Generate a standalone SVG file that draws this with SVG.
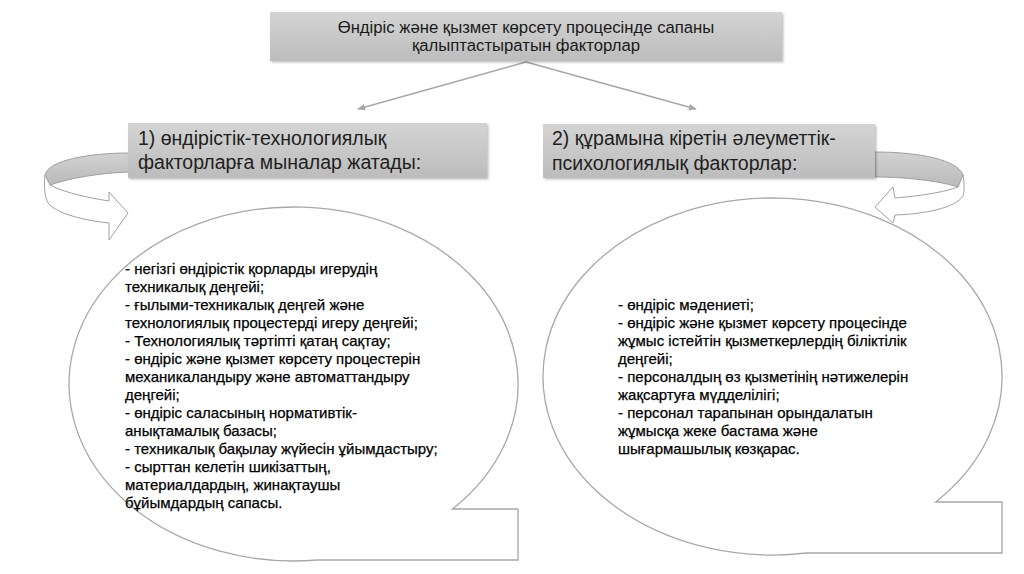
<svg xmlns="http://www.w3.org/2000/svg" width="1024" height="574" viewBox="0 0 1024 574">
<defs>
<linearGradient id="boxg" x1="0" y1="0" x2="0" y2="1">
<stop offset="0" stop-color="#d4d4d4"/>
<stop offset="1" stop-color="#bcbcbc"/>
</linearGradient>
<linearGradient id="bandg" x1="0" y1="0" x2="0" y2="1">
<stop offset="0" stop-color="#d2d2d2"/>
<stop offset="1" stop-color="#b9b9b9"/>
</linearGradient>
<marker id="ah" viewBox="0 0 10 10" refX="9" refY="5" markerWidth="8" markerHeight="8" orient="auto" markerUnits="userSpaceOnUse">
<path d="M0,1 L10,5 L0,9 Z" fill="#a6a6a6"/>
</marker>
<filter id="sh" x="-5%" y="-10%" width="115%" height="130%">
<feDropShadow dx="1.5" dy="1.5" stdDeviation="1.2" flood-color="#000" flood-opacity="0.25"/>
</filter>
</defs>
<style>
text{font-family:"Liberation Sans",Arial,"DejaVu Sans",sans-serif;}
.box{fill:url(#boxg);filter:url(#sh);}
.t1{font-size:16.7px;fill:#1a1a1a;text-anchor:middle;}
.th{font-size:19.5px;fill:#1f1f1f;}
.tb{font-size:15px;fill:#000;stroke:#000;stroke-width:0.25;}
.bub{fill:#fff;stroke:#a8a8a8;stroke-width:1.3;}
.con{stroke:#a6a6a6;stroke-width:1.3;fill:none;}
.band{fill:url(#bandg);stroke:#a0a0a0;stroke-width:1;}
.front{fill:#fff;stroke:#a0a0a0;stroke-width:1;}
</style>
<rect width="1024" height="574" fill="#fff"/>

<g id="left-bubble">
<path class="bub" d="M452.5,509 A224.5,177 0 1 0 317.3,560 L518,560 L518,509 Z"/>
<text class="tb" x="125" y="274">- негізгі өндірістік қорларды игерудің</text>
<text class="tb" x="125" y="292">техникалық деңгейі;</text>
<text class="tb" x="125" y="310">- ғылыми-техникалық деңгей және</text>
<text class="tb" x="125" y="328">технологиялық процестерді игеру деңгейі;</text>
<text class="tb" x="125" y="346">- Технологиялық тәртіпті қатаң сақтау;</text>
<text class="tb" x="125" y="364">- өндіріс және қызмет көрсету процестерін</text>
<text class="tb" x="125" y="382">механикаландыру және автоматтандыру</text>
<text class="tb" x="125" y="400">деңгейі;</text>
<text class="tb" x="125" y="418">- өндіріс саласының нормативтік-</text>
<text class="tb" x="125" y="436">анықтамалық базасы;</text>
<text class="tb" x="125" y="454">- техникалық бақылау жүйесін ұйымдастыру;</text>
<text class="tb" x="125" y="472">- сырттан келетін шикізаттың,</text>
<text class="tb" x="125" y="490">материалдардың, жинақтаушы</text>
<text class="tb" x="125" y="508">бұйымдардың сапасы.</text>
</g>

<g id="right-bubble">
<path class="bub" d="M935.7,502 A229.5,178.5 0 1 0 806.7,553 L1002,553 L1002,502 Z"/>
<text class="tb" x="618" y="310">- өндіріс мәдениеті;</text>
<text class="tb" x="618" y="328">- өндіріс және қызмет көрсету процесінде</text>
<text class="tb" x="618" y="346">жұмыс істейтін қызметкерлердің біліктілік</text>
<text class="tb" x="618" y="364">деңгейі;</text>
<text class="tb" x="618" y="382">- персоналдың өз қызметінің нәтижелерін</text>
<text class="tb" x="618" y="400">жақсартуға мүдделілігі;</text>
<text class="tb" x="618" y="418">- персонал тарапынан орындалатын</text>
<text class="tb" x="618" y="436">жұмысқа жеке бастама және</text>
<text class="tb" x="618" y="454">шығармашылық көзқарас.</text>
</g>

<g id="connectors">
<line class="con" x1="526" y1="62" x2="358" y2="109" marker-end="url(#ah)"/>
<line class="con" x1="526" y1="62" x2="696" y2="109" marker-end="url(#ah)"/>
<g id="left-curved-arrow">
<path class="band" d="M129,153 C90,153 48,160 45,175 C46,180 48,183 50,185 C70,178 100,173 129,172 Z"/>
<path class="front" d="M50,185 C65,193 90,198 109,201 L109,192 L128,213 L109,240 L109,223 C80,220 52,212 47,201 C44,192 44,182 45,175 Z"/>
</g>
<g id="right-curved-arrow">
<path class="band" d="M875,152 C920,152 958,160 963,175 C963,180 961,184 958,187 C940,181 905,177 875,177 Z"/>
<path class="front" d="M958,187 C945,192 920,196 895,198 L893,187 L875,207 L893,223 L895,215 C925,214 955,208 963,196 C965,190 964,181 963,175 Z"/>
</g>
</g>

<g id="top-node">
<rect class="box" x="270" y="12" width="512" height="49"/>
<text class="t1" x="526" y="33">Өндіріс және қызмет көрсету процесінде сапаны</text>
<text class="t1" x="526" y="51">қалыптастыратын факторлар</text>
</g>

<g id="left-header">
<rect class="box" x="128" y="123" width="359" height="55"/>
<text class="th" x="138" y="145">1) өндірістік-технологиялық</text>
<text class="th" x="138" y="169">факторларға мыналар жатады:</text>
</g>

<g id="right-header">
<rect class="box" x="543" y="124" width="332" height="54"/>
<text class="th" x="552" y="145">2) құрамына кіретін әлеуметтік-</text>
<text class="th" x="552" y="170">психологиялық факторлар:</text>
</g>
</svg>
